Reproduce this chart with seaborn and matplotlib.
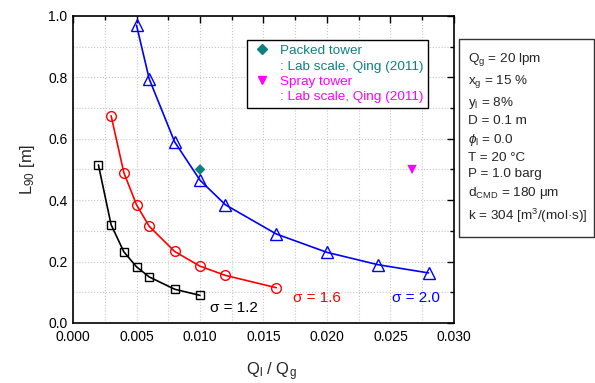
import numpy as np
import pandas as pd
import matplotlib
matplotlib.use("Agg")
import matplotlib.pyplot as plt
import seaborn as sns
from matplotlib.lines import Line2D
from matplotlib.patches import Rectangle
from matplotlib.ticker import MultipleLocator, FormatStrFormatter

# Data

x_s12 = [0.002, 0.003, 0.004, 0.005, 0.006, 0.008, 0.010]
y_s12 = [0.515, 0.320, 0.232, 0.183, 0.150, 0.110, 0.090]

x_s16 = [0.003, 0.004, 0.005, 0.006, 0.008, 0.010, 0.012, 0.016]
y_s16 = [0.675, 0.490, 0.385, 0.315, 0.233, 0.185, 0.155, 0.115]

x_s20 = [0.005, 0.006, 0.008, 0.010, 0.012, 0.016, 0.020, 0.024, 0.028]
y_s20 = [0.970, 0.795, 0.590, 0.465, 0.385, 0.290, 0.230, 0.190, 0.163]

packed_x = [0.010]
packed_y = [0.500]
spray_x = [0.0267]
spray_y = [0.500]

# Style

sns.set_style("white")
plt.rcParams["font.family"] = ["Liberation Sans", "DejaVu Sans"]
plt.rcParams["mathtext.fontset"] = "custom"
plt.rcParams["mathtext.rm"] = "Liberation Sans"
plt.rcParams["mathtext.it"] = "Liberation Sans:italic"
plt.rcParams["mathtext.default"] = "regular"

fig = plt.figure(figsize=(5.95, 3.83), dpi=100)
ax = fig.add_axes([0.1227, 0.1567, 0.6403, 0.8016])

# Curves

series = [
    (x_s12, y_s12, "black", "s", 6),
    (x_s16, y_s16, "red", "o", 7),
    (x_s20, y_s20, "blue", "^", 8),
]

for xs, ys, col, mk, ms in series:
    sns.lineplot(
        x=xs,
        y=ys,
        ax=ax,
        color=col,
        marker=mk,
        markersize=ms,
        markerfacecolor="none",
        markeredgecolor=col,
        markeredgewidth=1.0,
        linewidth=1.2,
        sort=False,
        zorder=3
    )

sns.scatterplot(x=packed_x, y=packed_y, ax=ax, marker="D", s=30,
                color="#0f8080", edgecolor="none", zorder=4)
sns.scatterplot(x=spray_x, y=spray_y, ax=ax, marker="v", s=45,
                color="#ff00ff", edgecolor="none", zorder=4)

# Axes

ax.set_xlim(0, 0.030)
ax.set_ylim(0, 1.0)
ax.xaxis.set_major_locator(MultipleLocator(0.005))
ax.xaxis.set_minor_locator(MultipleLocator(0.0025))
ax.yaxis.set_major_locator(MultipleLocator(0.2))
ax.yaxis.set_minor_locator(MultipleLocator(0.1))
ax.xaxis.set_major_formatter(FormatStrFormatter("%.3f"))
ax.yaxis.set_major_formatter(FormatStrFormatter("%.1f"))

ax.grid(True, which="both", linestyle=":", color="#c8c8c8", linewidth=0.8)
ax.set_axisbelow(True)
for sp in ax.spines.values():
    sp.set_color("black")
    sp.set_linewidth(1.2)

ax.tick_params(which="both", direction="in", top=True, right=True,
               labelsize=10, colors="black")
ax.tick_params(which="major", length=5, width=1)
ax.tick_params(which="minor", length=3, width=1)
ax.tick_params(axis="x", which="major", pad=5)
ax.tick_params(axis="y", which="major", pad=4)

ax.set_xlabel(r"Q$_{l}$ / Q$_{g}$", fontsize=12, labelpad=12)
ax.xaxis.label.set_x(0.522)
ax.set_ylabel(r"L$_{90}$ [m]", fontsize=12, labelpad=8)

# Curve labels

ax.text(0.0108, 0.049, "σ = 1.2", color="black", fontsize=11, va="center")
ax.text(0.0173, 0.081, "σ = 1.6", color="red", fontsize=11, va="center")
ax.text(0.0251, 0.081, "σ = 2.0", color="blue", fontsize=11, va="center")

# Legend

blank = Line2D([], [], linestyle="none", marker="none")
handles = [
    Line2D([], [], linestyle="none", marker="D", color="#0f8080", markersize=5),
    blank,
    Line2D([], [], linestyle="none", marker="v", color="#ff00ff", markersize=6),
    blank,
]
labels = [
    "Packed tower",
    ": Lab scale, Qing (2011)",
    "Spray tower",
    ": Lab scale, Qing (2011)",
]
leg = ax.legend(handles, labels, loc="upper left",
                bbox_to_anchor=(0.4567, 0.9218), borderaxespad=0,
                fontsize=9.7, frameon=True, fancybox=False,
                edgecolor="black", framealpha=1, borderpad=0.35,
                handletextpad=0.5, labelspacing=0.22, handlelength=1.6)
leg.get_frame().set_linewidth(1.0)
for txt, col in zip(leg.get_texts(), ["#0f8080", "#0f8080", "#ff00ff", "#ff00ff"]):
    txt.set_color(col)

# Conditions box

cond = "\n".join([
    r"Q$_{g}$ = 20 lpm",
    r"x$_{g}$ = 15 %",
    r"y$_{l}$ = 8%",
    "D = 0.1 m",
    r"$\mathit{\phi}_{l}$ = 0.0",
    "T = 20 °C",
    "P = 1.0 barg",
    r"d$_{CMD}$ = 180 μm",
    r"k = 304 [m$^{3}$/(mol·s)]",
])
fig.patches.append(Rectangle((0.7714, 0.3812), 0.2269, 0.517,
                             transform=fig.transFigure, facecolor="white",
                             edgecolor="#333333", linewidth=1.0))
fig.text(0.7866, 0.6397, cond, fontsize=9.7, va="center", ha="left",
         linespacing=1.46)

plt.savefig("out.png", dpi=100)
